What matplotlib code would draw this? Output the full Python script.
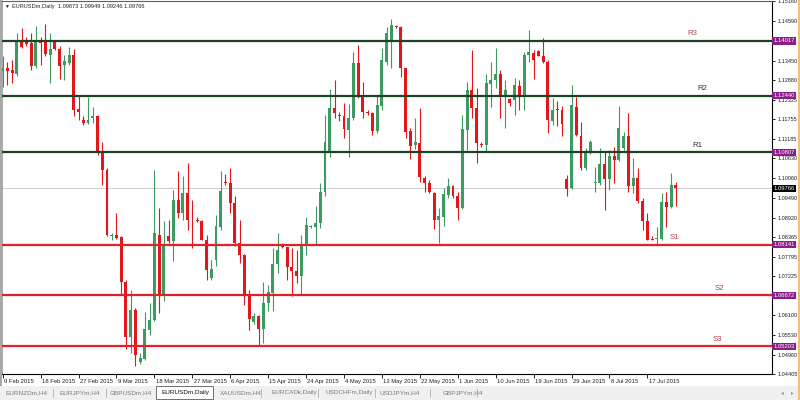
import numpy as np
import matplotlib
matplotlib.use("Agg")
import matplotlib.pyplot as plt
from matplotlib.patches import Rectangle
from matplotlib import transforms

plt.rcParams["font.family"] = ["Liberation Sans", "DejaVu Sans"]

# ===================================================
# DATA  (EURUSDm daily candles)
# ===================================================

opens = [
    1.1316, 1.1323, 1.1318, 1.1307, 1.1400, 1.1403, 1.1397, 1.1330, 1.1405, 1.1400,
    1.1361, 1.1403, 1.1378, 1.1333, 1.1337, 1.1361, 1.1205, 1.1174, 1.1164, 1.1178,
    1.1184, 1.1078, 1.1030, 1.0838, 1.0842, 1.0835, 1.0705, 1.0547, 1.0626, 1.0474,
    1.0484, 1.0568, 1.0597, 1.0842, 1.0667, 1.0840, 1.0823, 1.0943, 1.0905, 1.0964,
    1.0886, 1.0886, 1.0881, 1.0828, 1.0717, 1.0770, 1.0866, 1.0996, 1.0993, 1.0934,
    1.0818, 1.0785, 1.0667, 1.0590, 1.0607, 1.0570, 1.0645, 1.0674, 1.0759, 1.0815,
    1.0807, 1.0749, 1.0737, 1.0722, 1.0814, 1.0866, 1.0864, 1.0876, 1.0965, 1.1078,
    1.1208, 1.1189, 1.1186, 1.1145, 1.1179, 1.1337, 1.1243, 1.1198, 1.1195, 1.1143,
    1.1214, 1.1342, 1.1400, 1.1445, 1.1443, 1.1323, 1.1143, 1.1102, 1.1107, 1.1006,
    1.0991, 1.0964, 1.0886, 1.0895, 1.0958, 1.0982, 1.0955, 1.0919, 1.1145, 1.1259,
    1.1208, 1.1104, 1.1102, 1.1278, 1.1289, 1.1307, 1.1246, 1.1234, 1.1232, 1.1272,
    1.1241, 1.1361, 1.1368, 1.1373, 1.1357, 1.1342, 1.1172, 1.1205, 1.1201, 1.1004,
    1.0977, 1.1212, 1.1128, 1.1035, 1.1080, 1.0993, 1.0993, 1.1047, 1.1003, 1.1070,
    1.1059, 1.1092, 1.1128, 1.0982, 1.1006, 1.0939, 1.0881, 1.0831, 1.0831, 1.0830,
    1.0936, 1.0922, 1.09873,
]

highs = [
    1.1357, 1.1342, 1.1347, 1.1424, 1.1438, 1.1414, 1.1426, 1.1445, 1.1414, 1.1451,
    1.1426, 1.1405, 1.1387, 1.1361, 1.1385, 1.1378, 1.1246, 1.1184, 1.1241, 1.1212,
    1.1188, 1.1111, 1.1035, 1.0847, 1.0905, 1.0838, 1.0713, 1.0684, 1.0631, 1.0501,
    1.0618, 1.0645, 1.1030, 1.0919, 1.0881, 1.0886, 1.0972, 1.1025, 1.1011, 1.1049,
    1.0943, 1.0895, 1.0886, 1.0842, 1.0770, 1.0900, 1.1025, 1.1018, 1.1035, 1.0953,
    1.0886, 1.0788, 1.0684, 1.0616, 1.0612, 1.0705, 1.0698, 1.0804, 1.0847, 1.0818,
    1.0808, 1.0804, 1.0799, 1.0842, 1.0895, 1.0870, 1.0924, 1.0991, 1.1188, 1.1262,
    1.1289, 1.1198, 1.1222, 1.1220, 1.1371, 1.1390, 1.1284, 1.1203, 1.1198, 1.1246,
    1.1381, 1.1443, 1.1464, 1.1447, 1.1445, 1.1325, 1.1150, 1.1179, 1.1208, 1.1011,
    1.1001, 1.0967, 1.0919, 1.0977, 1.1006, 1.0987, 1.0967, 1.1188, 1.1284, 1.1376,
    1.1265, 1.1109, 1.1307, 1.1342, 1.1381, 1.1318, 1.1289, 1.1236, 1.1294, 1.1289,
    1.1371, 1.1433, 1.1376, 1.1376, 1.1409, 1.1347, 1.1236, 1.1227, 1.1214, 1.1015,
    1.1275, 1.1241, 1.1169, 1.1092, 1.1116, 1.1039, 1.1092, 1.1080, 1.1088, 1.1097,
    1.1214, 1.1140, 1.1195, 1.1063, 1.1035, 1.0948, 1.0905, 1.0840, 1.0866, 1.0964,
    1.0967, 1.1020, 1.09949,
]

lows = [
    1.1268, 1.1275, 1.1280, 1.1301, 1.1381, 1.1387, 1.1318, 1.1323, 1.1333, 1.1357,
    1.1280, 1.1376, 1.1291, 1.1289, 1.1333, 1.1184, 1.1174, 1.1160, 1.1162, 1.1164,
    1.1073, 1.0987, 1.0838, 1.0828, 1.0830, 1.0669, 1.0513, 1.0501, 1.0463, 1.0468,
    1.0480, 1.0554, 1.0594, 1.0617, 1.0650, 1.0818, 1.0766, 1.0890, 1.0886, 1.0857,
    1.0804, 1.0878, 1.0826, 1.0713, 1.0713, 1.0751, 1.0857, 1.0987, 1.0905, 1.0809,
    1.0761, 1.0641, 1.0568, 1.0586, 1.0520, 1.0530, 1.0621, 1.0621, 1.0732, 1.0804,
    1.0713, 1.0665, 1.0703, 1.0669, 1.0785, 1.0862, 1.0814, 1.0862, 1.0953, 1.1068,
    1.1179, 1.1172, 1.1121, 1.1068, 1.1174, 1.1236, 1.1179, 1.1188, 1.1131, 1.1136,
    1.1203, 1.1333, 1.1323, 1.1439, 1.1297, 1.1121, 1.1061, 1.1089, 1.0996, 1.0967,
    1.0963, 1.0859, 1.0820, 1.0868, 1.0948, 1.0948, 1.0886, 1.0916, 1.1088, 1.1179,
    1.1049, 1.1097, 1.1083, 1.1212, 1.1265, 1.1179, 1.1150, 1.1214, 1.1188, 1.1203,
    1.1203, 1.1342, 1.1291, 1.1357, 1.1337, 1.1136, 1.1160, 1.1155, 1.1128, 1.0953,
    1.0974, 1.1126, 1.1030, 1.1030, 1.1076, 1.0967, 1.0987, 1.0914, 1.0972, 1.0991,
    1.1054, 1.1088, 1.0967, 1.0963, 1.0934, 1.0857, 1.0826, 1.0826, 1.0809, 1.0826,
    1.0866, 1.0919, 1.09246,
]

closes = [
    1.1323, 1.1316, 1.1308, 1.1400, 1.1385, 1.1393, 1.1328, 1.1400, 1.1397, 1.1363,
    1.1378, 1.1378, 1.1330, 1.1344, 1.1361, 1.1201, 1.1196, 1.1164, 1.1174, 1.1186,
    1.1078, 1.1030, 1.0842, 1.0842, 1.0833, 1.0705, 1.0547, 1.0626, 1.0496, 1.0487,
    1.0570, 1.0597, 1.0847, 1.0667, 1.0814, 1.0823, 1.0943, 1.0905, 1.0963, 1.0886,
    1.0885, 1.0881, 1.0828, 1.0740, 1.0743, 1.0868, 1.0970, 1.0991, 1.0934, 1.0818,
    1.0785, 1.0667, 1.0599, 1.0607, 1.0570, 1.0645, 1.0676, 1.0759, 1.0799, 1.0807,
    1.0749, 1.0737, 1.0722, 1.0814, 1.0871, 1.0867, 1.0876, 1.0965, 1.1109, 1.1208,
    1.1193, 1.1186, 1.1147, 1.1179, 1.1337, 1.1246, 1.1198, 1.1193, 1.1143, 1.1217,
    1.1347, 1.1424, 1.1448, 1.1441, 1.1323, 1.1140, 1.1099, 1.1109, 1.1009, 1.0991,
    1.0967, 1.0886, 1.0897, 1.0961, 1.0982, 1.0955, 1.0919, 1.1147, 1.1259, 1.1208,
    1.1107, 1.1100, 1.1280, 1.1289, 1.1307, 1.1246, 1.1260, 1.1222, 1.1275, 1.1239,
    1.1361, 1.1371, 1.1347, 1.1358, 1.1342, 1.1174, 1.1203, 1.1201, 1.1162, 1.0974,
    1.1217, 1.1131, 1.1035, 1.1083, 1.1111, 1.0994, 1.1047, 1.1003, 1.1070, 1.1059,
    1.1150, 1.1128, 1.0982, 1.1006, 1.0939, 1.0881, 1.0828, 1.0828, 1.0832, 1.0936,
    1.0922, 1.0987, 1.09766,
]

date_labels = [
    "9 Feb 2015", "18 Feb 2015", "27 Feb 2015", "9 Mar 2015", "18 Mar 2015",
    "27 Mar 2015", "6 Apr 2015", "15 Apr 2015", "24 Apr 2015", "4 May 2015",
    "13 May 2015", "22 May 2015", "1 Jun 2015", "10 Jun 2015", "19 Jun 2015",
    "29 Jun 2015", "8 Jul 2015", "17 Jul 2015",
]
date_step = 8  # bars between date labels (sunday bars included)

level_names = ["R3", "R2", "R1", "S1", "S2", "S3"]
level_values = [1.14017, 1.12440, 1.10807, 1.08141, 1.06672, 1.05203]

price_ticks = [
    1.04405, 1.04960, 1.05530, 1.06100, 1.06655, 1.07225, 1.07795, 1.08365,
    1.08920, 1.09490, 1.10060, 1.10630, 1.11185, 1.11755, 1.12325, 1.12880,
    1.13450, 1.14020, 1.14590, 1.15160,
]
# these two sit under the R3 / S2 price boxes
hidden_ticks = [1.06655, 1.14020]

symbol = "EURUSDm,Daily"
tabs = [
    "EURNZDm,H4", "EURJPYm,H4", "GBPUSDm,H4", "EURUSDm,Daily", "XAUUSDm,H4",
    "EURCADk,Daily", "USDCHFm,Daily", "USDJPYm,H4", "GBPJPYm,H4",
]

# ===================================================
# PLOT
# ===================================================

o = np.array(opens)
h = np.array(highs)
l = np.array(lows)
c = np.array(closes)
x = np.arange(len(o))
up = c >= o

GREEN = "#3d9b62"
RED = "#e3161c"

fig = plt.figure(figsize=(8, 4), dpi=100)
fig.patch.set_facecolor("white")

W, H = 800.0, 400.0
ax = fig.add_axes([2 / W, 26 / H, 770 / W, 373 / H])

# last price line
ax.axhline(c[-1], color="#c8c8c8", linewidth=0.6, zorder=1)

# wicks
ax.vlines(
    x, l, h,
    colors=np.where(up, GREEN, RED),
    linewidth=0.8,
    zorder=2
)

# bodies
ax.bar(
    x,
    np.maximum(np.abs(c - o), 0.00012),
    bottom=np.minimum(o, c),
    width=0.62,
    color=np.where(up, GREEN, RED),
    linewidth=0,
    zorder=3
)

# pivot levels
label_pos = {"R3": 145.4, "R2": 147.7, "R1": 146.5, "S1": 141.8, "S2": 151.3, "S3": 150.7}
label_col = {"R3": "#b04848", "R2": "#303030", "R1": "#303030",
             "S1": "#b84040", "S2": "#b84040", "S3": "#b84040"}
box_tr = transforms.blended_transform_factory(ax.transAxes, ax.transData)

for name, val in zip(level_names, level_values):
    col = "#1a4325" if name.startswith("R") else "#e2202a"
    ax.axhline(val, color=col, linewidth=1.6, zorder=4)
    ax.annotate(
        name,
        (label_pos[name], val),
        xytext=(0, 2.5),
        textcoords="offset points",
        ha="center",
        va="bottom",
        fontsize=5.6,
        color=label_col[name],
        zorder=5
    )
    ax.text(
        1.0015, val, f"{val:.5f}",
        transform=box_tr,
        ha="left", va="center",
        fontsize=4.2, color="white",
        bbox=dict(boxstyle="square,pad=0.2", fc="#8a1d8a", ec="none"),
        clip_on=False, zorder=6
    )

ax.text(
    1.0015, c[-1], f"{c[-1]:.5f}",
    transform=box_tr,
    ha="left", va="center",
    fontsize=4.2, color="white",
    bbox=dict(boxstyle="square,pad=0.2", fc="black", ec="none"),
    clip_on=False, zorder=6
)

# axes
ax.set_xlim(-0.15, 162.3)
ax.set_ylim(1.0442, 1.1517)

ax.yaxis.tick_right()
ax.set_yticks(price_ticks)
ax.set_yticklabels(["" if v in hidden_ticks else f"{v:.5f}" for v in price_ticks])
ax.tick_params(axis="y", length=2.5, width=0.6, labelsize=4.0, pad=1.2, labelcolor="#202020")

ax.set_xticks(np.arange(len(date_labels)) * date_step)
ax.set_xticklabels(date_labels, ha="left")
ax.tick_params(axis="x", length=3, width=0.6, labelsize=4.2, pad=0.8, labelcolor="#202020")
shift = transforms.ScaledTranslation(1.2 / 100, 0, fig.dpi_scale_trans)
for lbl in ax.get_xticklabels():
    lbl.set_transform(lbl.get_transform() + shift)

ax.spines["left"].set_color("#9a9a9a")
ax.spines["left"].set_linewidth(1.2)
ax.spines["top"].set_color("#606060")
ax.spines["top"].set_linewidth(0.8)
ax.spines["right"].set_linewidth(0.8)
ax.spines["bottom"].set_linewidth(0.8)

# header
fig.text(4 / W, 1 - 6.5 / H, "\u25bc", fontsize=3.5, va="center", color="#202020")
fig.text(
    12 / W, 1 - 6.5 / H,
    f"{symbol}  {o[-1]:.5f} {h[-1]:.5f} {l[-1]:.5f} {c[-1]:.5f}",
    fontsize=4.1, va="center", color="#202020"
)

# ===================================================
# TAB BAR
# ===================================================

fig.patches.append(Rectangle((0, 0), 1, 14 / H, transform=fig.transFigure,
                             fc="#f0f0f0", ec="none", zorder=0))
fig.patches.append(Rectangle((798 / W, 0), 2 / W, 1, transform=fig.transFigure,
                             fc="#eec27c", ec="none", zorder=0))
fig.patches.append(Rectangle((0, 14 / H), 2 / W, 1, transform=fig.transFigure,
                             fc="#a8a8a8", ec="none", zorder=0))

tab_x = [6, 60, 110, 162, 220, 271, 325, 380, 443]
sep_x = [53, 106, 261, 318, 375, 430, 477]

for name, tx in zip(tabs, tab_x):
    if name == symbol:
        fig.patches.append(Rectangle((156 / W, 1.5 / H), 57 / W, 12.5 / H,
                                     transform=fig.transFigure,
                                     fc="white", ec="#707070", lw=0.7, zorder=1))
        fig.text(tx / W, 7.5 / H, name, fontsize=4.6, va="center", color="#101010", zorder=3)
    else:
        fig.text(tx / W, 7.5 / H, name, fontsize=4.6, va="center", color="#7a7a7a", zorder=3)

for sx in sep_x:
    fig.add_artist(plt.Line2D([sx / W, sx / W], [3 / H, 11 / H],
                              transform=fig.transFigure, color="#b0b0b0", lw=0.6))

fig.text(781 / W, 7.5 / H, "\u25c2", fontsize=4, va="center", color="#909090")
fig.text(791 / W, 7.5 / H, "\u25b8", fontsize=4, va="center", color="#909090")

fig.savefig("out.png", dpi=100)
